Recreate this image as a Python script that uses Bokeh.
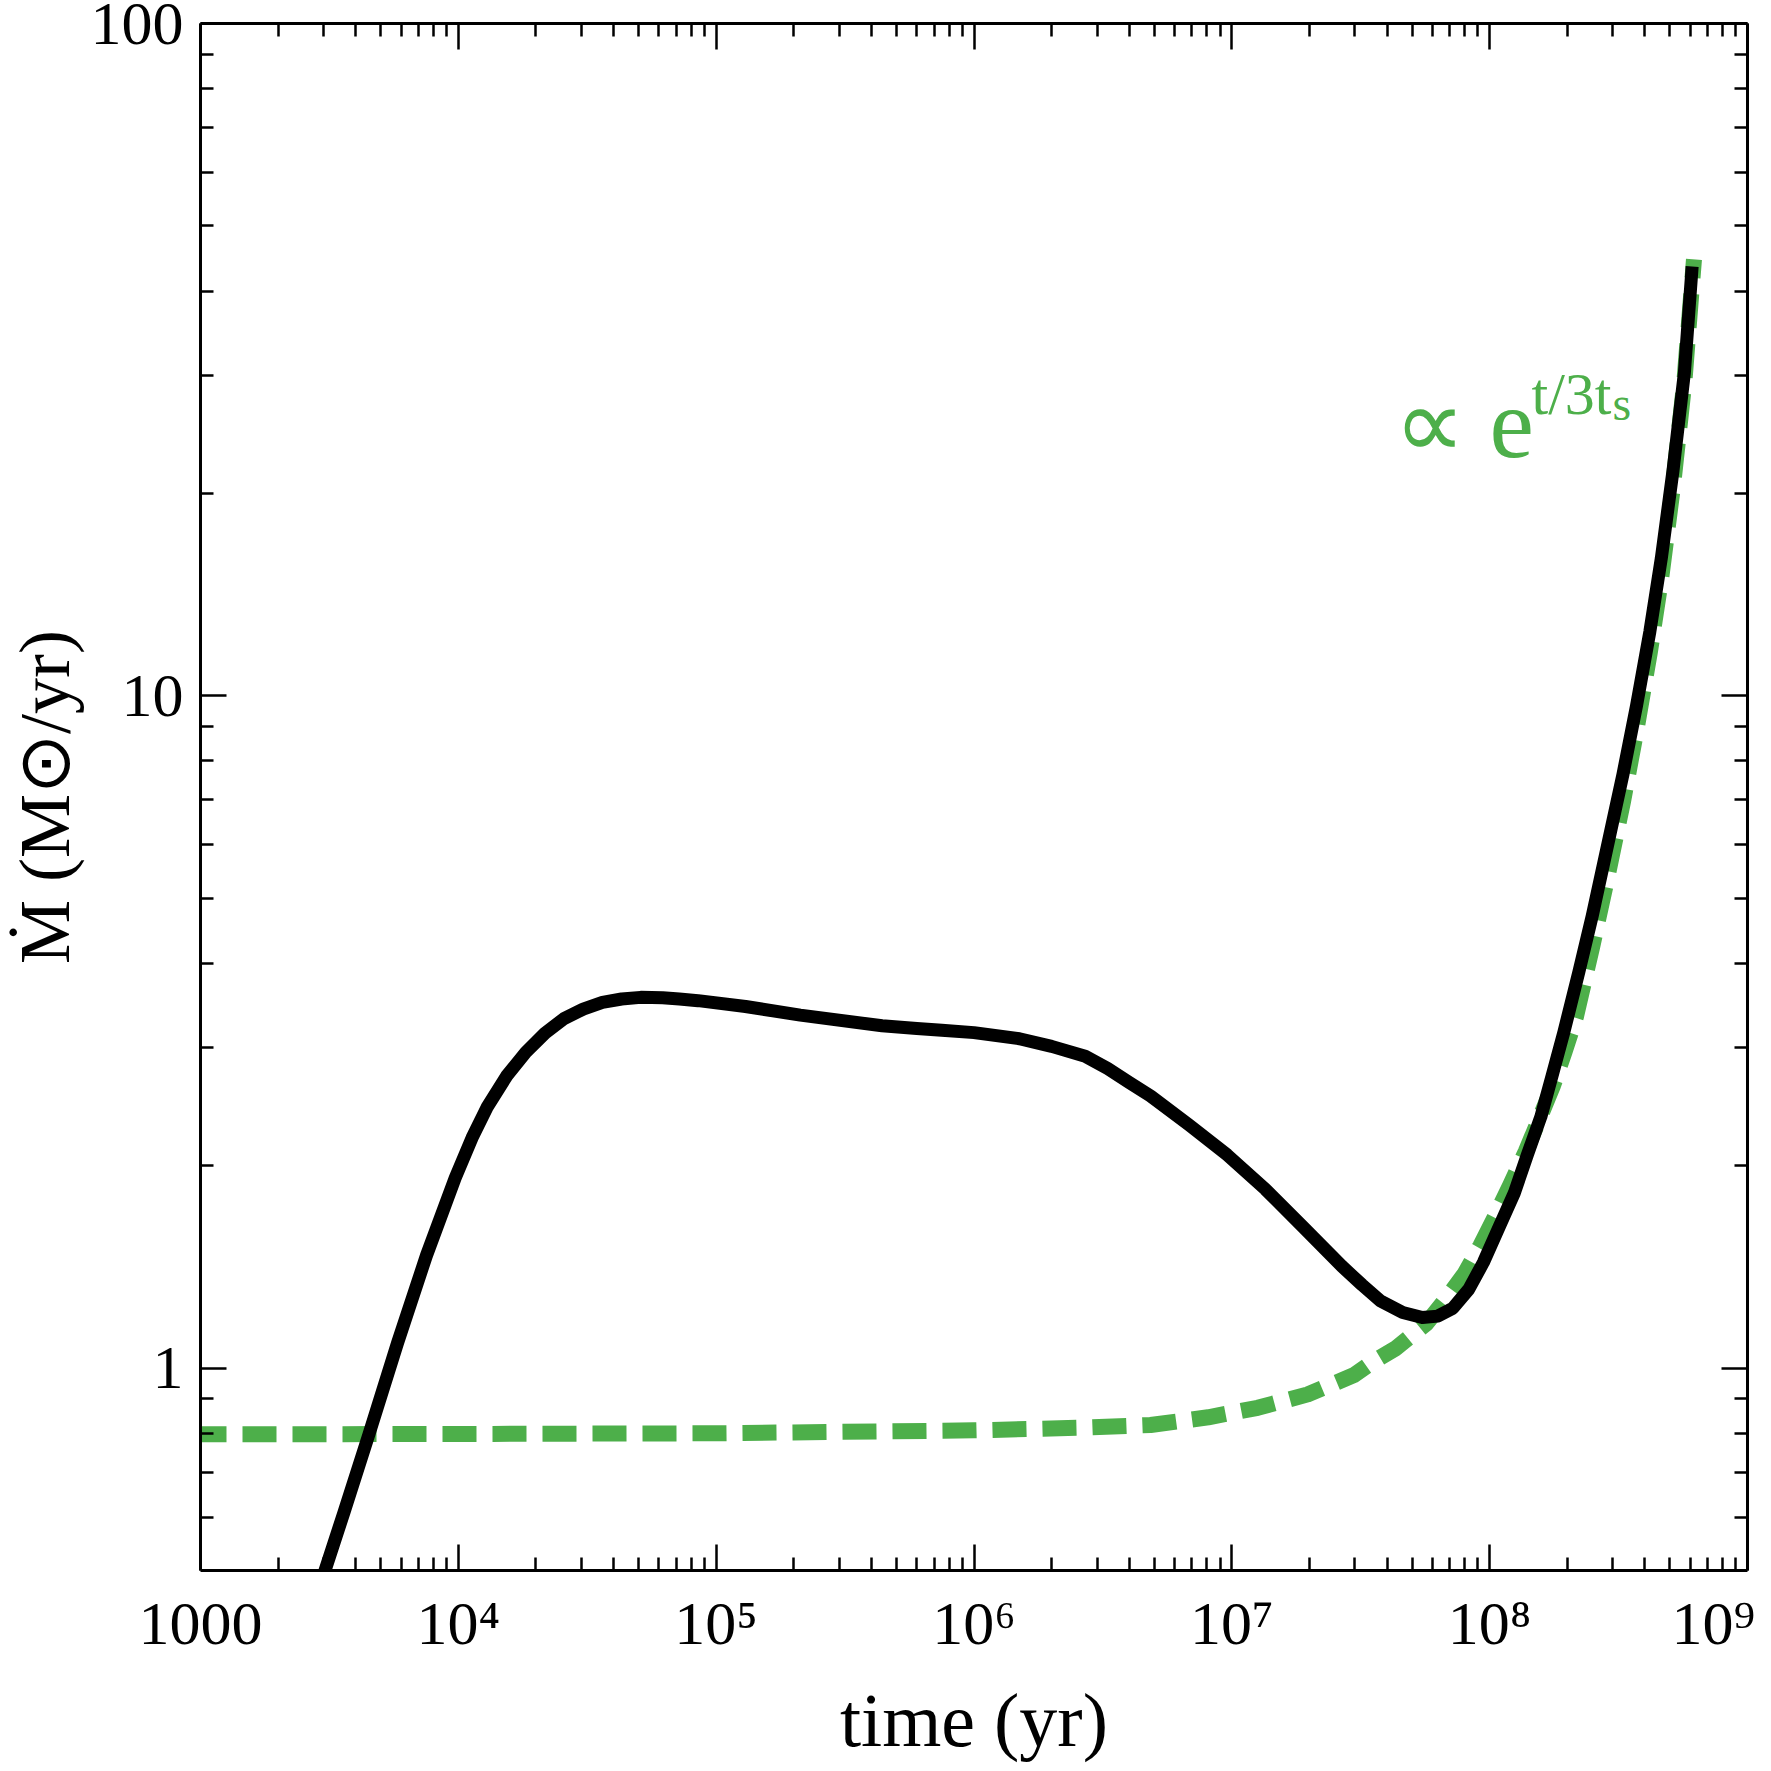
from bokeh.plotting import figure
from bokeh.models import Range1d, FixedTicker, LogAxis, Label, CustomJSTickFormatter
from bokeh.embed import file_html
from bokeh.resources import INLINE

# ---------------- data ----------------
t_black = [2800, 3040, 3600, 4500, 5810, 7520, 9730, 11300, 12980, 15400, 18270,
           21700, 25700, 30500, 36200, 43000, 50950, 62000, 72000, 85100, 1.3e5,
           2.12e5, 4.4e5, 6.0e5, 7.5e5, 1.0e6, 1.5e6, 2.0e6, 2.7e6, 3.3e6, 4.0e6,
           4.84e6, 6.82e6, 9.6e6, 1.35e7, 1.90e7, 2.67e7, 3.2e7, 3.76e7, 4.6e7,
           5.48e7, 6.3e7, 7.2e7, 8.3e7, 9.46e7, 1.087e8, 1.245e8, 1.40e8, 1.58e8,
           1.75e8, 1.94e8, 2.22e8, 2.5e8, 2.86e8, 3.29e8, 3.71e8, 4.18e8, 4.63e8,
           5.14e8, 5.69e8, 6.1e8]
m_black = [0.454, 0.50, 0.61, 0.797, 1.09, 1.47, 1.92, 2.20, 2.45, 2.72, 2.95,
           3.15, 3.31, 3.42, 3.50, 3.54, 3.56, 3.555, 3.54, 3.52, 3.45,
           3.35, 3.23, 3.20, 3.18, 3.155, 3.09, 3.01, 2.91, 2.79, 2.66,
           2.54, 2.30, 2.075, 1.845, 1.618, 1.418, 1.33, 1.26, 1.21,
           1.189, 1.195, 1.228, 1.31, 1.437, 1.62, 1.82, 2.075, 2.366,
           2.73, 3.16, 3.89, 4.71, 5.97, 7.65, 9.66, 12.45, 16.0,
           21.6, 30.2, 43.5]

t_green = [1000, 1e4, 1e5, 1e6, 2.5e6, 4.84e6, 8.1e6, 1.26e7, 1.97e7, 2.97e7,
           3.5e7, 4.32e7, 5.68e7, 6.8e7, 8.0e7, 9.2e7, 1.05e8, 1.2e8, 1.38e8,
           1.56e8, 1.76e8, 1.95e8, 2.16e8, 2.5e8, 2.86e8, 3.29e8, 3.71e8,
           4.18e8, 4.63e8, 5.14e8, 5.69e8, 6.2e8]
m_green = [0.797, 0.798, 0.80, 0.808, 0.815, 0.823, 0.845, 0.873, 0.914, 0.976,
           1.02, 1.07, 1.165, 1.27, 1.382, 1.52, 1.68, 1.87, 2.10,
           2.35, 2.63, 2.95, 3.33, 4.24, 5.37, 6.96, 8.9,
           11.6, 15.0, 20.5, 29.3, 44.6]

x_major = [1e3, 1e4, 1e5, 1e6, 1e7, 1e8, 1e9]
x_minor = [k * 10 ** n for n in range(3, 9) for k in range(2, 10)]
x_tick_labels = ["1000", "10⁴", "10⁵", "10⁶", "10⁷", "10⁸", "10⁹"]
y_major = [1, 10, 100]
y_minor = [0.6, 0.7, 0.8, 0.9] + [k * 10 ** n for n in range(0, 2) for k in range(2, 10)]
y_tick_labels = ["1", "10", "100"]

GREEN = "#4daf4a"
FONT = "Liberation Serif"

p = figure(x_axis_type="log", y_axis_type="log",
           x_range=Range1d(1e3, 1e9), y_range=Range1d(0.5, 100),
           frame_width=1547, frame_height=1547,
           min_border_left=200, min_border_right=23,
           min_border_top=23, min_border_bottom=200,
           output_backend="svg", toolbar_location=None)
p.grid.visible = False
p.outline_line_color = None
p.background_fill_color = "white"
p.border_fill_color = "white"

blank = CustomJSTickFormatter(code="return ''")

def label_formatter(tvals, tlabels, post_last=""):
    return CustomJSTickFormatter(
        args=dict(tvals=tvals, tlabels=tlabels, post=post_last), code="""
        let best = 0, bd = Infinity;
        for (let i = 0; i < tvals.length; i++) {
            const d = Math.abs(Math.log10(tick) - Math.log10(tvals[i]));
            if (d < bd) { bd = d; best = i; }
        }
        if (best == tvals.length - 1) return tlabels[best] + post;
        return tlabels[best];
    """)

def style_axis(ax, major, minor):
    ax.ticker = FixedTicker(ticks=major, minor_ticks=minor)
    ax.formatter = blank
    ax.axis_line_width = 3
    ax.axis_line_color = "black"
    ax.major_tick_line_width = 2.5
    ax.minor_tick_line_width = 2.5
    ax.major_tick_line_color = "black"
    ax.minor_tick_line_color = "black"
    ax.major_tick_in = 26
    ax.major_tick_out = 0
    ax.minor_tick_in = 13
    ax.minor_tick_out = 0
    ax.major_label_standoff = 0
    ax.major_label_text_font = FONT
    ax.major_label_text_font_size = "62px"
    ax.major_label_text_color = "black"
    ax.axis_label_text_font = FONT
    ax.axis_label_text_font_size = "76px"
    ax.axis_label_text_font_style = "normal"
    ax.axis_label_text_color = "black"

bottom = p.below[0]
left = p.left[0]
style_axis(bottom, x_major, x_minor)
style_axis(left, y_major, y_minor)
top = LogAxis()
right = LogAxis()
style_axis(top, x_major, x_minor)
style_axis(right, y_major, y_minor)
p.add_layout(top, "above")
p.add_layout(right, "right")

# last x label nudged slightly left, as in the original
bottom.formatter = label_formatter(x_major, x_tick_labels, post_last="\u00a0")
bottom.major_label_standoff = 18
bottom.axis_label = "time (yr)"
bottom.axis_label_standoff = 18

left.formatter = label_formatter(y_major, y_tick_labels)
left.major_label_standoff = 17
left.axis_label = "Ṁ (M⊙/yr)"
left.axis_label_text_font_size = "72px"
left.axis_label_standoff = 3

# curves
p.line(t_green, m_green, line_width=16, color=GREEN, line_dash="34 16",
       line_dash_offset=8, line_join="round")
p.line(t_black, m_black, line_width=13, color="black", line_join="round")

# green annotation  ∝ e^{t/3t_s}  (offsets from the top-right corner of the frame)
p.add_layout(Label(x=1e9, y=100, x_offset=-354, y_offset=-401, text="∝",
                   text_align="left", text_baseline="alphabetic", text_font=FONT,
                   text_font_size="100px", text_color=GREEN))
p.add_layout(Label(x=1e9, y=100, x_offset=-258, y_offset=-401, text="e",
                   text_align="left", text_baseline="alphabetic", text_font=FONT,
                   text_font_size="100px", text_color=GREEN))
p.add_layout(Label(x=1e9, y=100, x_offset=-216, y_offset=-370, text="t/3t",
                   text_align="left", text_baseline="alphabetic", text_font=FONT,
                   text_font_size="60px", text_color=GREEN))
p.add_layout(Label(x=1e9, y=100, x_offset=-135, y_offset=-380, text="s",
                   text_align="left", text_baseline="alphabetic", text_font=FONT,
                   text_font_size="48px", text_color=GREEN))

open("out.html", "w").write(file_html(p, INLINE))
